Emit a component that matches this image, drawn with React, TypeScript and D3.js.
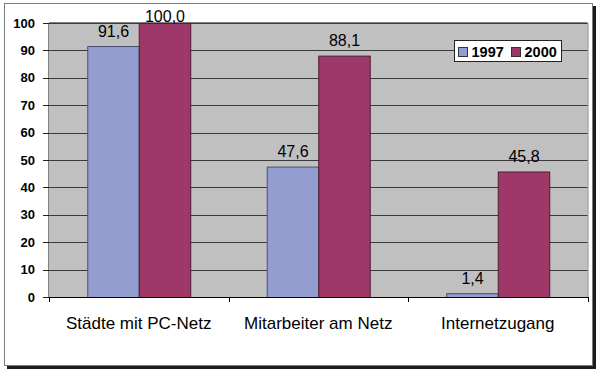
import * as d3 from 'd3';
import React, { useRef, useEffect } from 'react';

const categories = ['Städte mit PC-Netz', 'Mitarbeiter am Netz', 'Internetzugang'];
const seriesNames = ['1997', '2000'];
const values1997 = [91.6, 47.6, 1.4];
const values2000 = [100.0, 88.1, 45.8];
const yTicks = [0, 10, 20, 30, 40, 50, 60, 70, 80, 90, 100];
const seriesColors = ['#949dcf', '#9e3868'];

const FONT = "Arial, 'Liberation Sans', sans-serif";

const BarChart: React.FC = () => {
    const ref = useRef<SVGSVGElement | null>(null);

    useEffect(() => {
        const width = 600;
        const height = 373;
        const plot = { left: 49, right: 587.5, top: 23, bottom: 297 };

        const svg = d3.select(ref.current).attr('width', width).attr('height', height);
        svg.selectAll('*').remove();

        // Outer frame with shadow
        svg.append('rect')
            .attr('x', 7).attr('y', 6)
            .attr('width', 589).attr('height', 363)
            .attr('fill', '#1c1c1c');
        svg.append('rect')
            .attr('x', 4.5).attr('y', 3.5)
            .attr('width', 588).attr('height', 362)
            .attr('fill', '#ffffff')
            .attr('stroke', '#7a7a7a')
            .attr('stroke-width', 1);

        const x = d3.scaleBand<string>()
            .domain(categories)
            .range([plot.left, plot.right])
            .padding(0);

        const xSub = d3.scaleBand<string>()
            .domain(seriesNames)
            .range([0, x.bandwidth()])
            .paddingInner(0)
            .paddingOuter(0.743);

        const y = d3.scaleLinear().domain([0, 100]).range([plot.bottom, plot.top]);

        // Plot area
        svg.append('rect')
            .attr('x', plot.left).attr('y', plot.top)
            .attr('width', plot.right - plot.left).attr('height', plot.bottom - plot.top)
            .attr('fill', '#c0c0c0');
        svg.append('line')
            .attr('x1', plot.left).attr('x2', plot.right)
            .attr('y1', plot.top - 0.5).attr('y2', plot.top - 0.5)
            .attr('stroke', '#808080');
        svg.append('line')
            .attr('x1', plot.right + 0.5).attr('x2', plot.right + 0.5)
            .attr('y1', plot.top).attr('y2', plot.bottom)
            .attr('stroke', '#808080');

        // Gridlines
        svg.append('g')
            .selectAll('line')
            .data(yTicks.filter((t) => t > 0))
            .join('line')
            .attr('x1', plot.left).attr('x2', plot.right)
            .attr('y1', (d) => Math.round(y(d)) + 0.5)
            .attr('y2', (d) => Math.round(y(d)) + 0.5)
            .attr('stroke', '#3a3a3a')
            .attr('stroke-width', 1);

        // Y axis
        const yAxis = svg.append('g');
        yAxis.append('line')
            .attr('x1', plot.left - 0.5).attr('x2', plot.left - 0.5)
            .attr('y1', plot.top).attr('y2', plot.bottom)
            .attr('stroke', '#808080');
        yAxis.selectAll('.tick')
            .data(yTicks)
            .join('line')
            .attr('x1', plot.left - 6).attr('x2', plot.left)
            .attr('y1', (d) => Math.round(y(d)) + 0.5)
            .attr('y2', (d) => Math.round(y(d)) + 0.5)
            .attr('stroke', '#222');
        yAxis.selectAll('text')
            .data(yTicks)
            .join('text')
            .attr('x', 35)
            .attr('y', (d) => y(d) + 4.5)
            .attr('text-anchor', 'end')
            .attr('font-family', FONT)
            .attr('font-size', 13)
            .attr('font-weight', 'bold')
            .attr('fill', '#000')
            .text((d) => d);

        // Bars
        const rows = categories.map((c, i) => ({ cat: c, vals: [values1997[i], values2000[i]] }));
        const groups = svg.append('g')
            .selectAll('g')
            .data(rows)
            .join('g')
            .attr('transform', (d) => `translate(${x(d.cat)}, 0)`);

        groups.selectAll('rect')
            .data((d) => d.vals.map((v, j) => ({ key: seriesNames[j], v, j })))
            .join('rect')
            .attr('x', (d) => xSub(d.key)! + 0.5)
            .attr('y', (d) => y(d.v) + 0.5)
            .attr('width', xSub.bandwidth())
            .attr('height', (d) => plot.bottom - y(d.v))
            .attr('fill', (d) => seriesColors[d.j])
            .attr('stroke', (d) => (d.j === 0 ? '#4a4f6e' : '#4e1c34'))
            .attr('stroke-width', 1);

        groups.selectAll('text')
            .data((d) => d.vals.map((v, j) => ({ key: seriesNames[j], v, j })))
            .join('text')
            .attr('x', (d) => xSub(d.key)! + xSub.bandwidth() / 2 + 0.5)
            .attr('y', (d) => Math.max(y(d.v) - 9.5, 22))
            .attr('text-anchor', 'middle')
            .attr('font-family', FONT)
            .attr('font-size', 16)
            .attr('fill', '#000')
            .text((d) => d.v.toFixed(1).replace('.', ','));

        // X axis
        svg.append('line')
            .attr('x1', plot.left).attr('x2', plot.right + 1)
            .attr('y1', plot.bottom + 0.5).attr('y2', plot.bottom + 0.5)
            .attr('stroke', '#000');
        const xTickPos = [...categories.map((c) => x(c)!), plot.right];
        svg.append('g')
            .selectAll('line')
            .data(xTickPos)
            .join('line')
            .attr('x1', (d) => Math.round(d) + 0.5).attr('x2', (d) => Math.round(d) + 0.5)
            .attr('y1', plot.bottom).attr('y2', plot.bottom + 5)
            .attr('stroke', '#000');
        svg.append('g')
            .selectAll('text')
            .data(categories)
            .join('text')
            .attr('x', (d) => x(d)! + x.bandwidth() / 2)
            .attr('y', 328.5)
            .attr('text-anchor', 'middle')
            .attr('font-family', FONT)
            .attr('font-size', 17)
            .attr('fill', '#000')
            .text((d) => d);

        // Legend
        const legend = svg.append('g').attr('transform', 'translate(454.5, 40.5)');
        legend.append('rect')
            .attr('width', 107).attr('height', 21)
            .attr('fill', '#fff')
            .attr('stroke', '#222');
        seriesNames.forEach((name, i) => {
            const g = legend.append('g').attr('transform', `translate(${4 + i * 53}, 0)`);
            g.append('rect')
                .attr('x', 0).attr('y', 7)
                .attr('width', 9).attr('height', 9)
                .attr('fill', seriesColors[i])
                .attr('stroke', '#333');
            g.append('text')
                .attr('x', 13).attr('y', 16)
                .attr('font-family', FONT)
                .attr('font-size', 14.5)
                .attr('font-weight', 'bold')
                .attr('fill', '#000')
                .text(name);
        });
    }, []);

    return <svg ref={ref} style={{ position: 'absolute', left: 0, top: 0 }}></svg>;
};

export default function App() {
    return <BarChart />;
}
